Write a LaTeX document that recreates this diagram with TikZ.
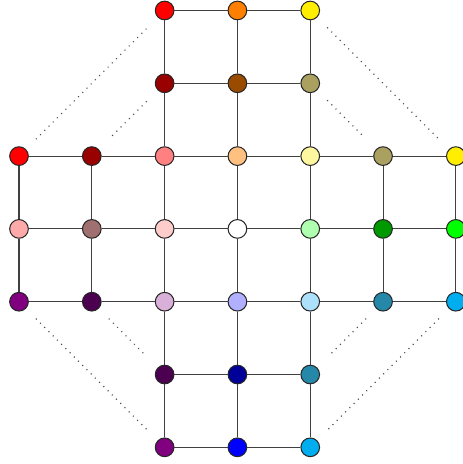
\documentclass[tikz,border=0pt]{standalone}
\usepackage{tikz}

\definecolor{cRed}{HTML}{FF0000}
\definecolor{cOrange}{HTML}{FF8000}
\definecolor{cYellow}{HTML}{FFEE00}
\definecolor{cDarkRed}{HTML}{990000}
\definecolor{cBrown}{HTML}{994C00}
\definecolor{cOlive}{HTML}{AAA060}
\definecolor{cLightRed}{HTML}{FF8080}
\definecolor{cLightOrange}{HTML}{FFC080}
\definecolor{cLightYellow}{HTML}{FFF7A0}
\definecolor{cPink}{HTML}{FFAAAA}
\definecolor{cRose}{HTML}{A07070}
\definecolor{cPalePink}{HTML}{FFCCCC}
\definecolor{cLightGreen}{HTML}{B0FFB0}
\definecolor{cGreen}{HTML}{009900}
\definecolor{cLime}{HTML}{00FF00}
\definecolor{cPurple}{HTML}{800080}
\definecolor{cDarkPurple}{HTML}{4C0050}
\definecolor{cThistle}{HTML}{D8B0D8}
\definecolor{cLavender}{HTML}{B0B0FF}
\definecolor{cSky}{HTML}{ADE0FA}
\definecolor{cTeal}{HTML}{2688A8}
\definecolor{cCyan}{HTML}{00AEEF}
\definecolor{cNavy}{HTML}{000099}
\definecolor{cBlue}{HTML}{0000FF}

\begin{document}
\begin{tikzpicture}[
            x=1.5cm, y=1.5cm,
            nd/.style={circle, draw=black!85, line width=0.6pt, minimum size=3.85mm, inner sep=0pt},
            ln/.style={draw=black!75, line width=0.6pt},
            dots/.style={draw=black!70, line width=0.7pt, dash pattern=on 0.6pt off 2.9pt}
        ]
        \useasboundingbox (-0.261,-0.229) rectangle (6.085,6.144);
        % top arm
        \node[nd, fill=cRed]          (n20) at (2,6) {};
        \node[nd, fill=cOrange]       (n30) at (3,6) {};
        \node[nd, fill=cYellow]       (n40) at (4,6) {};
        \node[nd, fill=cDarkRed]      (n21) at (2,5) {};
        \node[nd, fill=cBrown]        (n31) at (3,5) {};
        \node[nd, fill=cOlive]        (n41) at (4,5) {};
        % middle band
        \node[nd, fill=cRed]          (n02) at (0,4) {};
        \node[nd, fill=cDarkRed]      (n12) at (1,4) {};
        \node[nd, fill=cLightRed]     (n22) at (2,4) {};
        \node[nd, fill=cLightOrange]  (n32) at (3,4) {};
        \node[nd, fill=cLightYellow]  (n42) at (4,4) {};
        \node[nd, fill=cOlive]        (n52) at (5,4) {};
        \node[nd, fill=cYellow]       (n62) at (6,4) {};
        \node[nd, fill=cPink]         (n03) at (0,3) {};
        \node[nd, fill=cRose]         (n13) at (1,3) {};
        \node[nd, fill=cPalePink]     (n23) at (2,3) {};
        \node[nd, fill=white]         (n33) at (3,3) {};
        \node[nd, fill=cLightGreen]   (n43) at (4,3) {};
        \node[nd, fill=cGreen]        (n53) at (5,3) {};
        \node[nd, fill=cLime]         (n63) at (6,3) {};
        \node[nd, fill=cPurple]       (n04) at (0,2) {};
        \node[nd, fill=cDarkPurple]   (n14) at (1,2) {};
        \node[nd, fill=cThistle]      (n24) at (2,2) {};
        \node[nd, fill=cLavender]     (n34) at (3,2) {};
        \node[nd, fill=cSky]          (n44) at (4,2) {};
        \node[nd, fill=cTeal]         (n54) at (5,2) {};
        \node[nd, fill=cCyan]         (n64) at (6,2) {};
        % bottom arm
        \node[nd, fill=cDarkPurple]   (n25) at (2,1) {};
        \node[nd, fill=cNavy]         (n35) at (3,1) {};
        \node[nd, fill=cTeal]         (n45) at (4,1) {};
        \node[nd, fill=cPurple]       (n26) at (2,0) {};
        \node[nd, fill=cBlue]         (n36) at (3,0) {};
        \node[nd, fill=cCyan]         (n46) at (4,0) {};
        % horizontal edges
        \draw[ln] (n20) -- (n30) -- (n40);
        \draw[ln] (n21) -- (n31) -- (n41);
        \draw[ln] (n02) -- (n12) -- (n22) -- (n32) -- (n42) -- (n52) -- (n62);
        \draw[ln] (n03) -- (n13) -- (n23) -- (n33) -- (n43) -- (n53) -- (n63);
        \draw[ln] (n04) -- (n14) -- (n24) -- (n34) -- (n44) -- (n54) -- (n64);
        \draw[ln] (n25) -- (n35) -- (n45);
        \draw[ln] (n26) -- (n36) -- (n46);
        % vertical edges
        \draw[ln] (n02) -- (n03) -- (n04);
        \draw[ln] (n12) -- (n13) -- (n14);
        \draw[ln] (n20) -- (n21) -- (n22) -- (n23) -- (n24) -- (n25) -- (n26);
        \draw[ln] (n30) -- (n31) -- (n32) -- (n33) -- (n34) -- (n35) -- (n36);
        \draw[ln] (n40) -- (n41) -- (n42) -- (n43) -- (n44) -- (n45) -- (n46);
        \draw[ln] (n52) -- (n53) -- (n54);
        \draw[ln] (n62) -- (n63) -- (n64);
        % dotted corners
        \draw[dots, shorten <=2.9mm, shorten >=2.9mm] (n02) -- (n20);
        \draw[dots, shorten <=3.9mm, shorten >=2.9mm] (n12) -- (n21);
        \draw[dots, shorten <=2.9mm, shorten >=2.9mm] (n40) -- (n62);
        \draw[dots, shorten <=2.9mm, shorten >=3.9mm] (n41) -- (n52);
        \draw[dots, shorten <=2.9mm, shorten >=2.9mm] (n04) -- (n26);
        \draw[dots, shorten <=2.9mm, shorten >=3.9mm] (n14) -- (n25);
        \draw[dots, shorten <=2.9mm, shorten >=2.9mm] (n64) -- (n46);
        \draw[dots, shorten <=2.9mm, shorten >=3.9mm] (n54) -- (n45);
    \end{tikzpicture}
\end{document}
